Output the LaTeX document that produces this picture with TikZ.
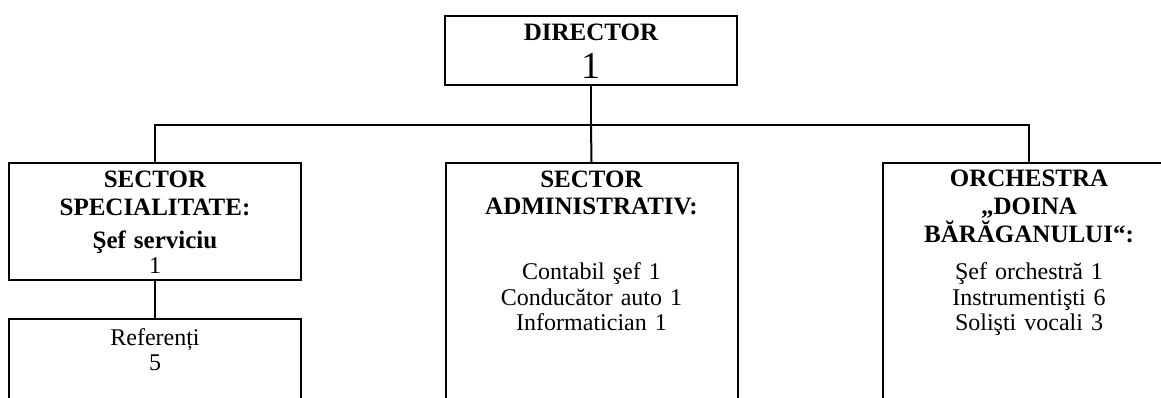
\documentclass[tikz,border=0pt]{standalone}
\usepackage{fontspec}
\setmainfont{Liberation Serif}
\begin{document}
\begin{tikzpicture}[x=0.5pt,y=-0.5pt,line width=1pt,
  box/.style={draw,rectangle,inner sep=0pt,anchor=north,minimum width=146pt},
  txt/.style={anchor=base,align=center,text width=140pt,inner sep=0pt,font=\fontsize{12}{13.85}\selectfont},
  hd/.style={font=\fontsize{12.5}{13.85}\selectfont\bfseries}]
\useasboundingbox(0,0)rectangle(1161,397);
\clip(0,0)rectangle(1161,397);
\node[box,minimum height=34.5pt](dir)at(591,15){};
\node[box,minimum height=58.5pt](spec)at(155,162){};
\node[box,minimum height=60pt](ref)at(155,318){};
\node[box,minimum height=125pt](adm)at(591.5,162){};
\node[box,minimum height=125pt](orch)at(1029,162){};
\coordinate(bus)at(591,125);
\draw(dir)--(bus);
\draw(spec.north)|-(bus)-|(orch.north);
\draw(bus)--(adm.north);
\draw(spec)--(ref);
\node[txt](tdir)at(591,40.7){{\fontsize{12.5}{13.85}\selectfont\bfseries DIRECTOR}\\[4.8pt]{\fontsize{19}{13.85}\selectfont 1}};
\node[txt](tspec)at(155,187.3){{\bfseries\fontsize{12.5}{13.85}\selectfont SECTOR}\\{\bfseries\fontsize{12.5}{13.85}\selectfont SPECIALITATE:}\\[2.65pt]{\bfseries\fontsize{12.5}{13.85}\selectfont Şef serviciu}\\[-1.35pt]1};
\node[txt](tref)at(155,345){Referenți\\[-1.35pt]5};
\node[txt](tadm)at(591.5,187){{\bfseries\fontsize{12.5}{13.85}\selectfont SECTOR}\\{\bfseries\fontsize{12.5}{13.85}\selectfont ADMINISTRATIV:}\\[18.5pt]Contabil şef 1\\[-1pt]Conducător auto 1\\[-1pt]Informatician 1};
\node[txt](torch)at(1029,186.7){{\bfseries\fontsize{12.5}{13.85}\selectfont ORCHESTRA}\\{\bfseries\fontsize{12.5}{13.85}\selectfont „DOINA}\\{\bfseries\fontsize{12.5}{13.85}\selectfont BĂRĂGANULUI“:}\\[4.8pt]Şef orchestră 1\\[-1pt]Instrumentişti 6\\[-1pt]Solişti vocali 3};
\end{tikzpicture}
\end{document}
